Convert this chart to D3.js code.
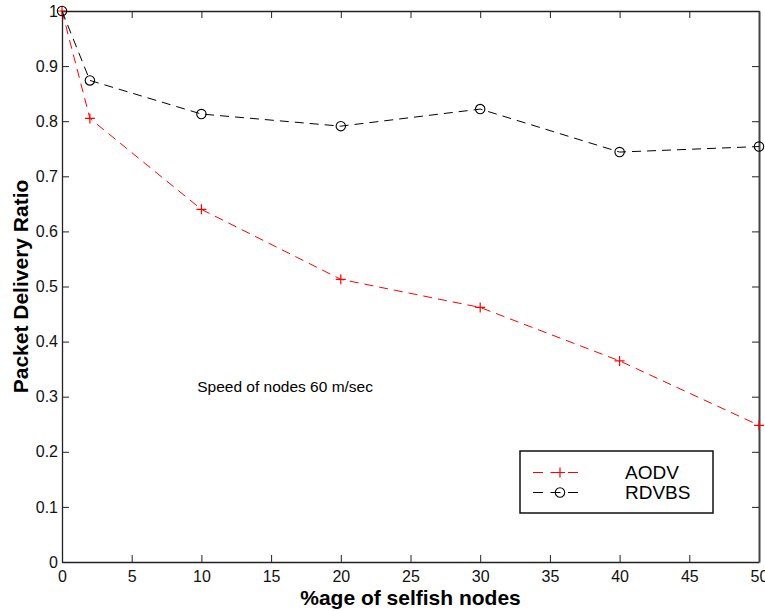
<!DOCTYPE html>
<html>
<head>
<meta charset="utf-8">
<script src="https://cdn.jsdelivr.net/npm/d3@7"></script>
<style>
  body { margin: 0; background: #fff; }
  svg { display: block; font-family: "Liberation Sans", Arial, Helvetica, sans-serif; }
</style>
</head>
<body>
<svg id="chart" width="765" height="611"></svg>
<script>
// data
const selfish = [0, 2, 10, 20, 30, 40, 50];
const aodv = [1.0, 0.805, 0.640, 0.513, 0.462, 0.365, 0.248];
const rdvbs = [1.0, 0.874, 0.813, 0.791, 0.822, 0.744, 0.754];
const seriesNames = ["AODV", "RDVBS"];
const xTicks = [0, 5, 10, 15, 20, 25, 30, 35, 40, 45, 50];
const yTicks = [0, 0.1, 0.2, 0.3, 0.4, 0.5, 0.6, 0.7, 0.8, 0.9, 1];

const svg = d3.select("#chart");
const margin = {top: 11, right: 6, bottom: 49, left: 62};
const width = 765 - margin.left - margin.right;
const height = 611 - margin.top - margin.bottom;

const g = svg.append("g").attr("transform", `translate(${margin.left},${margin.top})`);

const x = d3.scaleLinear().domain([0, 50]).range([0, width]);
const y = d3.scaleLinear().domain([0, 1]).range([height, 0]);

const tickLen = 7;
const fmtY = d => d === 0 || d === 1 ? String(d) : d3.format(".1f")(d);

// bottom axis (ticks point inward)
g.append("g")
  .attr("transform", `translate(0,${height})`)
  .call(d3.axisBottom(x).tickValues(xTicks).tickSizeInner(-tickLen).tickSizeOuter(0).tickPadding(9));
// left axis
g.append("g")
  .call(d3.axisLeft(y).tickValues(yTicks).tickFormat(fmtY).tickSizeInner(-tickLen).tickSizeOuter(0).tickPadding(4));
// top and right mirror ticks
g.append("g")
  .call(d3.axisTop(x).tickValues(xTicks).tickFormat("").tickSizeInner(-tickLen).tickSizeOuter(0));
g.append("g")
  .attr("class", "right-axis")
  .attr("transform", `translate(${width},0)`)
  .call(d3.axisRight(y).tickValues(yTicks).tickFormat("").tickSizeInner(-tickLen).tickSizeOuter(0));

svg.selectAll(".domain").attr("stroke", "#222").attr("stroke-width", 1.3);
svg.select(".right-axis .domain").attr("stroke", "#444").attr("stroke-width", 2);
svg.selectAll(".tick line").attr("stroke", "#222");
svg.selectAll(".tick text").attr("font-size", 16).attr("fill", "#111")
  .attr("font-family", "'Liberation Sans', Arial, sans-serif");

// axis labels
svg.append("text")
  .attr("x", margin.left + width / 2).attr("y", 605)
  .attr("text-anchor", "middle")
  .attr("font-size", 21).attr("font-weight", "bold")
  .text("%age of selfish nodes");

svg.append("text")
  .attr("transform", `translate(28,${margin.top + height / 2}) rotate(-90)`)
  .attr("text-anchor", "middle")
  .attr("font-size", 21).attr("font-weight", "bold")
  .text("Packet Delivery Ratio");

// annotation
g.append("text")
  .attr("x", x(9.7)).attr("y", y(0.3085))
  .attr("font-size", 15.5)
  .text("Speed of nodes 60 m/sec");

// lines
const line = d3.line().x(d => x(d[0])).y(d => y(d[1]));
const aodvPts = selfish.map((s, i) => [s, aodv[i]]);
const rdvbsPts = selfish.map((s, i) => [s, rdvbs[i]]);

function drawSeries(pts, color, marker) {
  g.append("path")
    .datum(pts)
    .attr("d", line)
    .attr("fill", "none")
    .attr("stroke", color)
    .attr("stroke-width", 1)
    .attr("stroke-dasharray", "9,6");
  const m = g.append("g").selectAll("g").data(pts).join("g")
    .attr("transform", d => `translate(${x(d[0])},${y(d[1])})`);
  drawMarker(m, color, marker);
}

function drawMarker(sel, color, marker) {
  if (marker === "plus") {
    sel.append("path").attr("d", "M-5,0H5M0,-5V5").attr("stroke", color).attr("stroke-width", 1.2);
  } else {
    sel.append("circle").attr("r", 4.7).attr("fill", "none").attr("stroke", color).attr("stroke-width", 1.1);
  }
}

drawSeries(aodvPts, "#ff0000", "plus");
drawSeries(rdvbsPts, "#000", "circle");

// legend
const legend = svg.append("g").attr("transform", "translate(520,451)");
legend.append("rect")
  .attr("width", 193).attr("height", 62)
  .attr("fill", "#fff").attr("stroke", "#111").attr("stroke-width", 1.5);

const legendRows = [
  {name: seriesNames[0], color: "#ff0000", marker: "plus"},
  {name: seriesNames[1], color: "#000", marker: "circle"}
];
const row = legend.selectAll(".row").data(legendRows).join("g")
  .attr("class", "row")
  .attr("transform", (d, i) => `translate(0,${21.5 + i * 20})`);
row.append("line")
  .attr("x1", 13).attr("x2", 60)
  .attr("stroke", d => d.color).attr("stroke-width", 1)
  .attr("stroke-dasharray", "10,7.5");
row.each(function (d) {
  const mk = d3.select(this).append("g").attr("transform", "translate(40,0)");
  drawMarker(mk, d.color, d.marker);
});
row.append("text")
  .attr("x", 105).attr("y", 0).attr("dy", "0.36em")
  .attr("font-size", 19)
  .text(d => d.name);
</script>
</body>
</html>
